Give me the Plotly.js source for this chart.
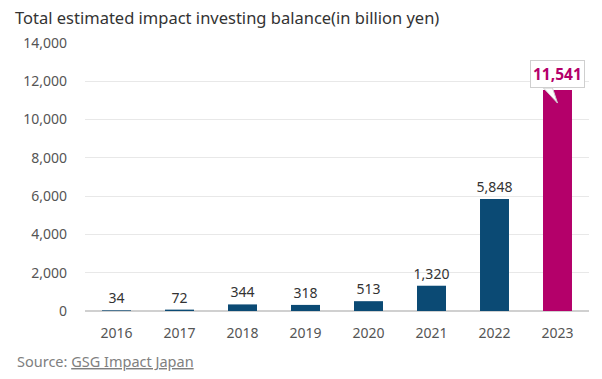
<!DOCTYPE html>
<html><head><meta charset="utf-8">
<script src="https://cdn.plot.ly/plotly-3.0.1.min.js"></script>
<style>html,body{margin:0;padding:0;background:#fff}#chart{width:602px;height:379px}</style>
</head><body><div id="chart"></div>
<script>
const years = ['2016','2017','2018','2019','2020','2021','2022','2023'];
const balances = [34, 72, 344, 318, 513, 1320, 5848, 11541];
const yTicks = [0, 2000, 4000, 6000, 8000, 10000, 12000, 14000];
const titleText = 'Total estimated impact investing balance(in billion yen)';
const sourceLabel = 'Source: ';
const sourceName = 'GSG Impact Japan';

const navy = '#0b4a74';
const magenta = '#b4006a';
const last = years.length - 1;
const colors = years.map((y, i) => i === last ? magenta : navy);
const labels = balances.map((v, i) => i === last ? '' : v.toLocaleString('en-US'));

const trace = {
  type: 'bar', x: years, y: balances,
  marker: {color: colors},
  text: labels, textposition: 'outside', cliponaxis: false, constraintext: 'none',
  textfont: {family: 'Noto Sans', size: 14, color: '#333'},
  hoverinfo: 'none'
};

const layout = {
  width: 602, height: 379,
  margin: {l: 85, r: 13, t: 43, b: 68},
  paper_bgcolor: '#fff', plot_bgcolor: '#fff',
  font: {family: 'Noto Sans', color: '#444'},
  showlegend: false,
  bargap: 0.54,
  title: {text: titleText, x: 0.025, xanchor: 'left', y: 0.953, yanchor: 'middle',
          font: {family: 'Noto Sans', size: 16.5, color: '#333'}},
  xaxis: {type: 'category', range: [-0.5, years.length - 0.5], autorange: false,
          showgrid: false, zeroline: false, showline: false, ticks: '',
          tickfont: {family: 'Noto Sans', size: 14, color: '#555'}, ticklabelstandoff: 12},
  yaxis: {range: [0, 14000], autorange: false, tickvals: yTicks, ticktext: yTicks.map(v => v.toLocaleString('en-US')),
          showgrid: true, gridcolor: '#e8e8e8', gridwidth: 1,
          zeroline: true, zerolinecolor: '#d0d0d0', zerolinewidth: 1.5,
          showline: false, ticks: '', ticklabelstandoff: 17,
          tickfont: {family: 'Noto Sans', size: 14, color: '#555'}},
  annotations: [
    {x: last, y: balances[last], xref: 'x', yref: 'y',
     text: '<b>' + balances[last].toLocaleString('en-US') + '</b>',
     showarrow: false, yanchor: 'bottom', yshift: 2,
     font: {family: 'Noto Sans', size: 15.5, color: magenta},
     bgcolor: '#fff', bordercolor: '#cfcfcf', borderwidth: 1, borderpad: 2},
    {xref: 'paper', yref: 'paper', x: -0.139, y: -0.185, xanchor: 'left', yanchor: 'middle',
     showarrow: false, align: 'left',
     text: sourceLabel + '<span style="text-decoration:underline">' + sourceName + '</span>',
     font: {family: 'Noto Sans', size: 14.5, color: '#808080'}}
  ],
  shapes: [
    {type: 'path', xref: 'x', yref: 'y', xsizemode: 'pixel', ysizemode: 'pixel',
     xanchor: last, yanchor: balances[last],
     path: 'M -14,2 L 0,-13 L -5,2 Z',
     fillcolor: '#fff', line: {color: '#cfcfcf', width: 1}, layer: 'above'}
  ]
};

Plotly.newPlot('chart', [trace], layout, {staticPlot: true, displayModeBar: false});
</script></body></html>
